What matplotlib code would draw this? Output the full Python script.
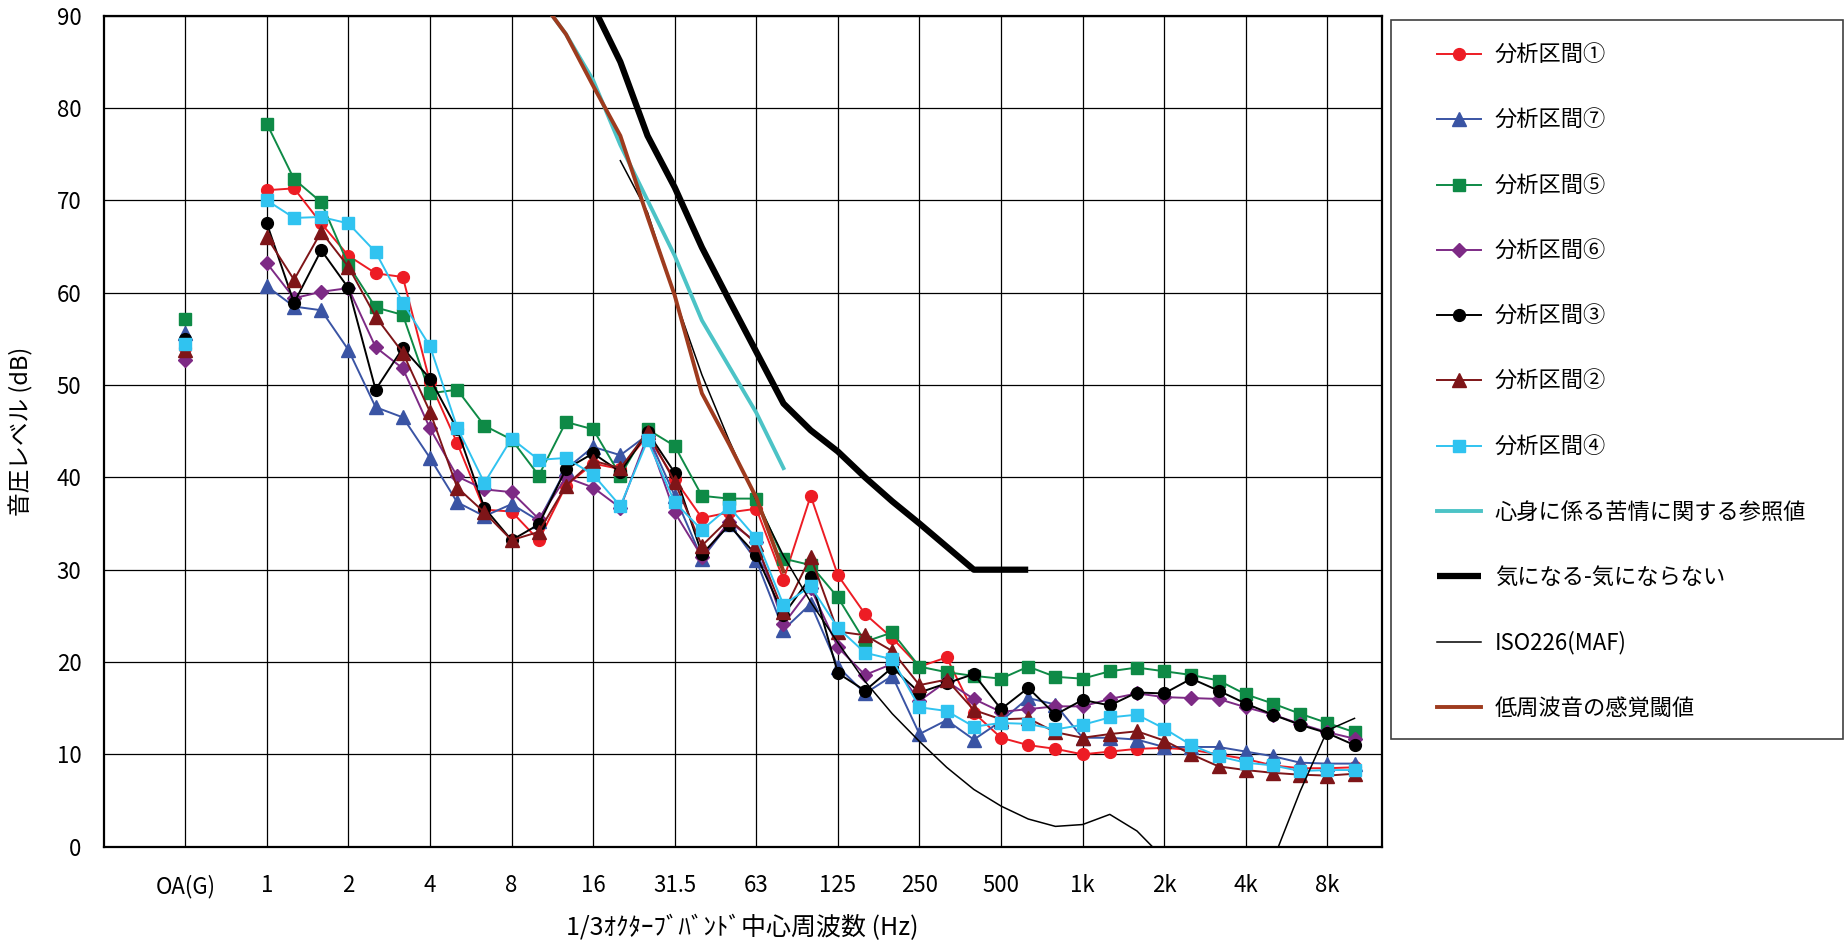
import matplotlib
matplotlib.use("Agg")
import matplotlib.pyplot as plt
from matplotlib.patches import Rectangle
import numpy as np

plt.rcParams['font.family'] = ['Noto Sans CJK JP', 'DejaVu Sans']

# ---------------- data ----------------
bands = ['1', '1.25', '1.6', '2', '2.5', '3.15', '4', '5', '6.3', '8', '10', '12.5',
         '16', '20', '25', '31.5', '40', '50', '63', '80', '100', '125', '160', '200',
         '250', '315', '400', '500', '630', '800', '1k', '1.25k', '1.6k', '2k', '2.5k',
         '3.15k', '4k', '5k', '6.3k', '8k', '10k']
tick_labels = ['OA(G)', '1', '2', '4', '8', '16', '31.5', '63', '125', '250', '500',
               '1k', '2k', '4k', '8k']

sec1 = [71.1, 71.3, 67.5, 64.0, 62.1, 61.7, 50.3, 43.7, 36.5, 36.3, 33.2, 39.1, 41.5, 40.9,
        44.5, 39.8, 35.6, 36.2, 36.6, 28.9, 38.0, 29.4, 25.2, 22.6, 19.5, 20.5, 14.5, 11.8,
        11.0, 10.6, 10.0, 10.3, 10.6, 10.7, 10.5, 10.0, 9.5, 8.8, 8.5, 8.5, 8.6]
sec7 = [60.7, 58.5, 58.1, 53.8, 47.6, 46.5, 42.1, 37.3, 35.8, 37.1, 35.3, 40.9, 43.3, 42.4,
        44.6, 38.0, 31.2, 35.0, 31.0, 23.5, 26.3, 19.5, 16.6, 18.5, 12.2, 13.7, 11.6, 13.6,
        16.1, 15.4, 11.8, 11.8, 11.6, 10.8, 10.8, 10.8, 10.3, 9.8, 9.1, 9.0, 9.0]
sec5 = [78.3, 72.3, 69.8, 63.0, 58.4, 57.6, 49.1, 49.5, 45.6, 44.1, 40.2, 46.0, 45.2, 40.2,
        45.2, 43.4, 38.0, 37.7, 37.7, 31.2, 30.5, 27.0, 22.2, 23.2, 19.5, 18.9, 18.5, 18.2,
        19.5, 18.4, 18.2, 19.0, 19.4, 19.0, 18.6, 18.0, 16.5, 15.5, 14.4, 13.4, 12.4]
sec6 = [63.2, 59.4, 60.1, 60.5, 54.1, 51.8, 45.3, 40.1, 38.7, 38.4, 35.5, 40.0, 38.9, 36.7,
        44.5, 36.2, 31.4, 35.2, 33.0, 24.1, 28.0, 21.6, 18.6, 19.8, 15.8, 17.9, 16.0, 14.6,
        14.9, 15.2, 15.2, 16.0, 16.6, 16.2, 16.1, 16.0, 15.1, 14.3, 13.3, 12.4, 11.7]
sec3 = [67.5, 58.9, 64.6, 60.5, 49.5, 54.0, 50.7, 45.2, 36.7, 33.2, 34.9, 40.9, 42.6, 40.6,
        44.9, 40.5, 31.7, 34.8, 31.6, 25.1, 29.2, 18.8, 16.9, 19.4, 16.7, 17.7, 18.7, 14.9,
        17.2, 14.3, 15.9, 15.3, 16.7, 16.6, 18.2, 16.9, 15.5, 14.3, 13.2, 12.3, 11.0]
sec2 = [66.0, 61.4, 66.6, 62.8, 57.4, 53.5, 47.1, 38.9, 36.2, 33.2, 34.1, 39.1, 41.8, 41.0,
        44.9, 39.5, 32.6, 35.5, 32.8, 25.4, 31.4, 23.3, 22.9, 21.2, 17.5, 18.1, 14.8, 13.8,
        13.9, 12.4, 11.8, 12.2, 12.5, 11.5, 10.0, 8.7, 8.3, 8.0, 7.8, 7.7, 7.9]
sec4 = [70.0, 68.1, 68.2, 67.5, 64.4, 58.9, 54.2, 45.4, 39.4, 44.2, 41.9, 42.1, 40.3, 36.9,
        44.0, 37.3, 34.3, 36.8, 33.4, 26.2, 28.2, 23.7, 21.0, 20.3, 15.1, 14.7, 13.0, 13.4,
        13.3, 12.7, 13.2, 14.0, 14.3, 12.8, 11.0, 9.8, 9.1, 8.8, 8.2, 8.3, 8.3]

oa_values = {'sec1': 54.0, 'sec7': 55.6, 'sec5': 57.1, 'sec6': 52.7,
             'sec3': 55.0, 'sec2': 53.8, 'sec4': 54.4}

ref_bands = ['10', '12.5', '16', '20', '25', '31.5', '40', '50', '63', '80']
ref_values = [92, 88, 83, 76, 70, 64, 57, 52, 47, 41]

kini_bands = ['16', '20', '25', '31.5', '40', '50', '63', '80', '100', '125', '160', '200',
              '250', '315', '400', '500', '630']
kini_values = [91, 85, 77, 71.4, 64.9, 59.2, 53.6, 48.0, 45.1, 42.8, 40.0, 37.4, 35.0,
               32.5, 30.0, 30.0, 30.0]

iso_bands = ['20', '25', '31.5', '40', '50', '63', '80', '100', '125', '160', '200', '250',
             '315', '400', '500', '630', '800', '1k', '1.25k', '1.6k', '2k', '2.5k', '3.15k',
             '4k', '5k', '6.3k', '8k', '10k']
iso_values = [74.3, 68.7, 59.5, 51.1, 44.0, 37.5, 31.5, 26.5, 22.1, 17.9, 14.4, 11.4, 8.6,
              6.2, 4.4, 3.0, 2.2, 2.4, 3.5, 1.7, -1.3, -4.2, -6.0, -5.4, -1.5, 6.0, 12.6, 13.9]

thr_bands = ['10', '12.5', '16', '20', '25', '31.5', '40', '50', '63', '80']
thr_values = [92, 88, 82.4, 77.0, 68.2, 59.7, 49.1, 43.6, 37.8, 29.8]

# ---------------- plotting ----------------
fig = plt.figure(figsize=(18.44, 9.43), dpi=100)
ax = fig.add_axes([0.05624, 0.10212, 0.69306, 0.88123])

pos = {b: i for i, b in enumerate(bands)}
x_bands = np.arange(len(bands))
OA_X = -3

series = [
    ('分析区間①', sec1, 'sec1', '#ED1C24', 'o', 8.5),
    ('分析区間⑦', sec7, 'sec7', '#3A54A4', '^', 9.5),
    ('分析区間⑤', sec5, 'sec5', '#0E8A46', 's', 8.0),
    ('分析区間⑥', sec6, 'sec6', '#7D2A85', 'D', 7.0),
    ('分析区間③', sec3, 'sec3', '#000000', 'o', 8.5),
    ('分析区間②', sec2, 'sec2', '#7E1518', '^', 9.5),
    ('分析区間④', sec4, 'sec4', '#30C3F0', 's', 8.0),
]

handles = []
for label, vals, key, col, mk, ms in series:
    h, = ax.plot(x_bands, vals, color=col, lw=1.4, marker=mk, ms=ms,
                 markeredgecolor=col, markerfacecolor=col, label=label, zorder=3)
    ax.plot([OA_X], [oa_values[key]], color=col, marker=mk, ms=ms, ls='none',
            markeredgecolor=col, zorder=3)
    handles.append(h)

h, = ax.plot([pos[b] for b in ref_bands], ref_values, color='#4CC3C6', lw=2.8,
             label='心身に係る苦情に関する参照値', zorder=4)
handles.append(h)
h, = ax.plot([pos[b] for b in kini_bands], kini_values, color='#000000', lw=4.5,
             label='気になる-気にならない', zorder=4, solid_capstyle='butt')
handles.append(h)
h, = ax.plot([pos[b] for b in iso_bands], iso_values, color='#000000', lw=1.1,
             label='ISO226(MAF)', zorder=4)
handles.append(h)
h, = ax.plot([pos[b] for b in thr_bands], thr_values, color='#9E3B1E', lw=2.8,
             label='低周波音の感覚閾値', zorder=4)
handles.append(h)

# axes
ax.set_xlim(-6, 41)
ax.set_ylim(0, 90)
tick_pos = [OA_X] + [pos[b] for b in ['1', '2', '4', '8', '16', '31.5', '63', '125',
                                      '250', '500', '1k', '2k', '4k', '8k']]
ax.set_xticks(tick_pos)
ax.set_xticklabels(tick_labels, fontsize=16)
ax.set_yticks(np.arange(0, 91, 10))
ax.tick_params(axis='y', labelsize=16, length=0, pad=16)
ax.tick_params(axis='x', length=0, pad=20)
ax.grid(True, color='#000000', lw=0.9, zorder=0)
ax.set_axisbelow(True)
for sp in ax.spines.values():
    sp.set_linewidth(1.6)
    sp.set_color('#000000')

ax.set_xlabel('1/3ｵｸﾀｰﾌﾞﾊﾞﾝﾄﾞ中心周波数 (Hz)', fontsize=18)
ax.xaxis.set_label_coords(0.5, -0.098)
ax.xaxis.label.set_va('center')
ax.set_ylabel('音圧レベル (dB)', fontsize=17)
ax.yaxis.set_label_coords(-0.0647, 0.5)
ax.yaxis.label.set_va('center')

# legend
fig.legend(handles=handles, loc='upper left', bbox_to_anchor=(1437 / 1844, 1 - 44 / 943),
           frameon=False, fontsize=16, handlelength=2.0, handletextpad=0.6,
           labelspacing=1.9, borderpad=0, borderaxespad=0)
fig.add_artist(Rectangle((1391 / 1844, 1 - 739 / 943), (1843 - 1391) / 1844,
                         (739 - 20) / 943, transform=fig.transFigure, fill=False,
                         edgecolor='#404040', lw=1.2))

fig.savefig('out.png', dpi=100)
